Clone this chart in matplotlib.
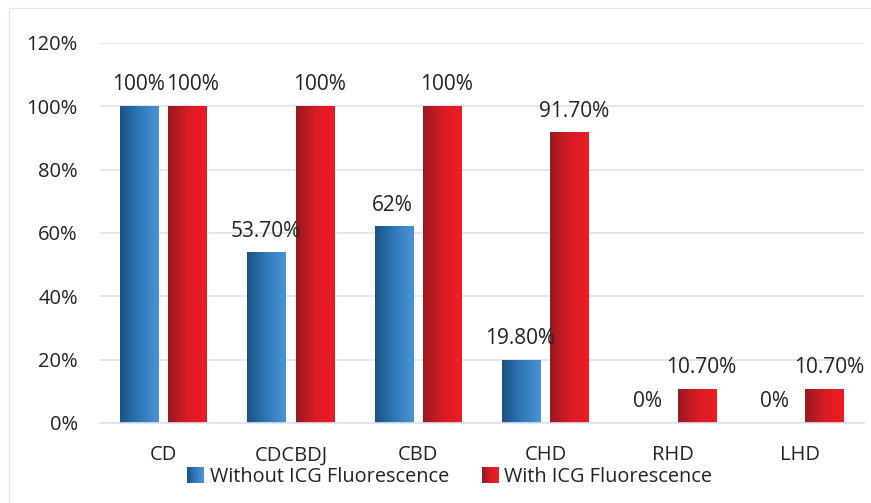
import numpy as np
import matplotlib
matplotlib.use("Agg")
import matplotlib.pyplot as plt
from matplotlib.colors import LinearSegmentedColormap
from matplotlib.patches import Rectangle
from matplotlib.legend_handler import HandlerBase

categories = ["CD", "CDCBDJ", "CBD", "CHD", "RHD", "LHD"]
without_icg = [100, 53.7, 62, 19.8, 0, 0]
with_icg = [100, 100, 100, 91.7, 10.7, 10.7]
without_labels = ["100%", "53.70%", "62%", "19.80%", "0%", "0%"]
with_labels = ["100%", "100%", "100%", "91.70%", "10.70%", "10.70%"]
yticks = [0, 20, 40, 60, 80, 100, 120]

blue_cmap = LinearSegmentedColormap.from_list("b", ["#1b5283", "#2f78b8", "#4a94d4"])
red_cmap = LinearSegmentedColormap.from_list("r", ["#961a1f", "#d81c24", "#ee1d26"])

plt.rcParams["font.family"] = ["Open Sans", "DejaVu Sans"]

fig = plt.figure(figsize=(8.71, 5.03), dpi=100)
ax = fig.add_axes([100 / 871, 1 - 423 / 503, 764 / 871, 380 / 503])

# light frame of the chart area
fig.patches.append(Rectangle((9 / 871, -0.1), 1.1, 1 - 8 / 503 + 0.1, transform=fig.transFigure,
                             fill=False, edgecolor="#dfe6ee", linewidth=1))

width = 0.305
offset = 0.19
x = np.arange(len(categories))
grad = np.linspace(0, 1, 256).reshape(1, -1)


def gradient_bar(x0, h, cmap):
    if h <= 0:
        return
    ax.imshow(grad, cmap=cmap, aspect="auto", extent=(x0 - width / 2, x0 + width / 2, 0, h),
              zorder=2, interpolation="bilinear")


for i in range(len(categories)):
    gradient_bar(x[i] - offset, without_icg[i], blue_cmap)
    gradient_bar(x[i] + offset, with_icg[i], red_cmap)
    ax.annotate(without_labels[i], (x[i] - offset, without_icg[i]), xytext=(-1, 8),
                textcoords="offset points", ha="center", va="bottom", fontsize=15, color="#222222")
    ax.annotate(with_labels[i], (x[i] + offset, with_icg[i]), xytext=(3, 8),
                textcoords="offset points", ha="center", va="bottom", fontsize=15, color="#222222")

ax.set_xlim(-0.5, len(categories) - 0.5)
ax.set_ylim(0, 120)
ax.set_yticks(yticks)
ax.set_yticklabels([f"{t}%" for t in yticks], fontsize=14.5, color="#222222")
ax.set_xticks(x)
ax.set_xticklabels(categories, fontsize=14.5, color="#222222")
ax.tick_params(axis="both", length=0)
ax.tick_params(axis="y", pad=16)
ax.tick_params(axis="x", pad=16)
ax.grid(axis="y", color="#dbe3ee", linewidth=1.2, zorder=0)
ax.set_axisbelow(True)
for s in ["top", "right", "left"]:
    ax.spines[s].set_visible(False)
ax.spines["bottom"].set_color("#dbe3ee")
ax.spines["bottom"].set_linewidth(1.2)


class GradientHandler(HandlerBase):
    def __init__(self, cmap):
        super().__init__()
        self.cmap = cmap

    def create_artists(self, legend, orig_handle, xdescent, ydescent, width, height, fontsize, trans):
        n = 12
        side = 12
        x0 = width - side
        y0 = (height - side) / 2
        arts = []
        for k in range(n):
            arts.append(Rectangle((x0 + side * k / n - xdescent, y0 - ydescent), side / n + 0.2, side,
                                  facecolor=self.cmap(k / (n - 1)), edgecolor="none", transform=trans))
        return arts


h1 = Rectangle((0, 0), 1, 1)
h2 = Rectangle((0, 0), 1, 1)
fig.legend([h1, h2], ["Without ICG Fluorescence", "With ICG Fluorescence"],
           handler_map={h1: GradientHandler(blue_cmap), h2: GradientHandler(red_cmap)},
           loc="center", bbox_to_anchor=(452 / 871, 1 - 477 / 503), ncol=2, frameon=False,
           fontsize=14.3, handlelength=0.6, handletextpad=0.3, columnspacing=1.9,
           labelcolor="#222222", borderpad=0)

fig.savefig("out.png", dpi=100)
